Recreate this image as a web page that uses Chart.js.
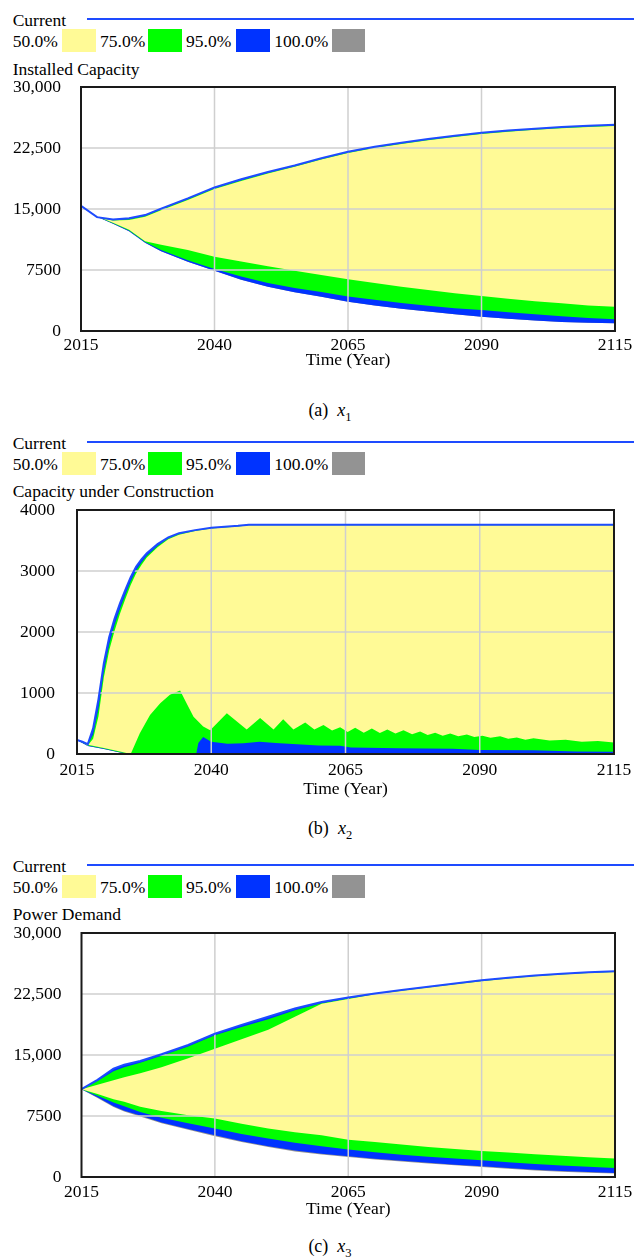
<!DOCTYPE html>
<html><head><meta charset="utf-8">
<script src="https://cdn.jsdelivr.net/npm/chart.js@4.4.1/dist/chart.umd.min.js"></script>
<style>
body{margin:0;width:634px;height:1257px;position:relative;background:#fff;font-family:'Liberation Serif','Times New Roman',serif;overflow:hidden}
.t{position:absolute;font-size:17.5px;line-height:20px;white-space:nowrap;color:#000}
.box{position:absolute;width:33.5px;height:22.4px}
.ln{position:absolute;height:2px;background:#1e4bff}
.cv{position:absolute;left:0}
.cap{position:absolute;left:0;width:660px;text-align:center;font-size:18px;line-height:22px;white-space:nowrap}
</style></head><body>
<script>
// ---------- shared labels / ticks ----------
const xTickValues = [2015, 2040, 2065, 2090, 2115];
const xTickLabels = ['2015', '2040', '2065', '2090', '2115'];
const yTicks1 = [0, 7500, 15000, 22500, 30000];
const yTickLabels1 = ['0', '7500', '15,000', '22,500', '30,000'];
const yTicks2 = [0, 1000, 2000, 3000, 4000];
const yTickLabels2 = ['0', '1000', '2000', '3000', '4000'];
const yTicks3 = [0, 7500, 15000, 22500, 30000];
const yTickLabels3 = ['0', '7500', '15,000', '22,500', '30,000'];
const legendLabels = ['50.0%', '75.0%', '95.0%', '100.0%'];
const bandColors = ['#FFFA96', '#00FF00', '#0033FF', '#939393'];
const chartTitles = ['Installed Capacity', 'Capacity under Construction', 'Power Demand'];
const captionLetters = ['(a)', '(b)', '(c)'];
const captionIndex = ['1', '2', '3'];
const xAxisTitle = 'Time (Year)';

// ---------- panel (a): Installed Capacity ----------
const years1 = [2015, 2018, 2021, 2024, 2027, 2030, 2035, 2040, 2045, 2050, 2055, 2060, 2065, 2070, 2075, 2080, 2085, 2090, 2095, 2100, 2105, 2110, 2115];
const current1 = [15400, 14000, 13720, 13850, 14250, 15050, 16300, 17650, 18650, 19550, 20350, 21250, 22050, 22650, 23150, 23600, 24000, 24380, 24650, 24880, 25080, 25230, 25350];
const max50_1 = [15400, 13950, 13580, 13650, 14050, 14850, 16100, 17450, 18450, 19350, 20200, 21100, 21900, 22500, 23000, 23450, 23850, 24230, 24500, 24730, 24930, 25080, 25200];
const max75_1 = [15400, 13980, 13650, 13750, 14150, 14950, 16200, 17550, 18550, 19450, 20280, 21180, 21980, 22580, 23080, 23530, 23930, 24310, 24580, 24810, 25010, 25160, 25280];
const max95_1 = [15400, 14000, 13720, 13850, 14250, 15050, 16300, 17650, 18650, 19550, 20350, 21250, 22050, 22650, 23150, 23600, 24000, 24380, 24650, 24880, 25080, 25230, 25350];
const min50_1 = [15400, 14100, 13300, 12450, 11050, 10600, 9950, 9130, 8550, 7950, 7400, 6900, 6350, 5900, 5450, 5050, 4650, 4300, 3950, 3650, 3400, 3150, 2990];
const min75_1 = [15400, 14080, 13250, 12350, 10950, 9950, 8700, 7620, 6700, 5900, 5300, 4800, 4250, 3850, 3450, 3100, 2800, 2580, 2300, 2050, 1800, 1600, 1430];
const min95_1 = [15400, 14050, 13200, 12250, 10850, 9800, 8500, 7400, 6300, 5450, 4750, 4200, 3600, 3150, 2750, 2400, 2050, 1760, 1500, 1300, 1100, 1000, 950];

// ---------- panel (b): Capacity under Construction ----------
const years2 = [2015, 2016, 2017, 2018, 2019, 2020, 2021, 2022, 2023, 2024, 2025, 2026, 2027, 2028, 2030, 2032, 2034, 2037, 2040, 2045, 2047, 2115];
const current2 = [230, 200, 160, 420, 900, 1490, 1920, 2220, 2470, 2690, 2900, 3070, 3190, 3290, 3440, 3550, 3620, 3670, 3710, 3740, 3760, 3760];
const max50_2 = [230, 195, 140, 250, 620, 1260, 1700, 2020, 2300, 2540, 2770, 2960, 3100, 3220, 3390, 3520, 3595, 3655, 3695, 3730, 3750, 3750];
const max75_2 = [230, 198, 150, 320, 750, 1360, 1800, 2120, 2380, 2610, 2830, 3010, 3140, 3250, 3410, 3535, 3605, 3662, 3702, 3735, 3755, 3755];
const max95_2 = [230, 200, 160, 420, 900, 1490, 1920, 2220, 2470, 2690, 2900, 3070, 3190, 3290, 3440, 3550, 3620, 3670, 3710, 3740, 3760, 3760];
const min50Years2 = [2015, 2017, 2020, 2023, 2025, 2026.7, 2028.6, 2030.5, 2032.3, 2034.2, 2035.4, 2036.7, 2038.5, 2039.8, 2042.9, 2046.6, 2049.1, 2051.6, 2053.4, 2055.3, 2057.5, 2059.2, 2060.9, 2062.5, 2064, 2065.4, 2066.8, 2068.4, 2069.9, 2071.4, 2072.8, 2074.3, 2075.8, 2077.4, 2078.9, 2080.3, 2081.7, 2083.1, 2084.5, 2086, 2087.6, 2089, 2090.5, 2092, 2093.8, 2095.3, 2096.9, 2098.5, 2100, 2103, 2106, 2109, 2112, 2115];
const min50_2 = [230, 150, 100, 40, 0, 340, 640, 830, 970, 1040, 830, 610, 450, 390, 670, 400, 590, 400, 570, 400, 515, 400, 475, 385, 440, 360, 430, 350, 420, 345, 400, 335, 390, 325, 370, 310, 350, 300, 335, 290, 320, 280, 300, 265, 290, 250, 270, 235, 260, 220, 235, 200, 215, 190];
const min75Years2 = [2015, 2017, 2020, 2023, 2025, 2037.2, 2037.6, 2038.5, 2040, 2043, 2046, 2049, 2052, 2056, 2060, 2064, 2066, 2075, 2085, 2090, 2100, 2108, 2115];
const min75_2 = [230, 140, 90, 30, 0, 0, 180, 280, 200, 170, 175, 200, 180, 160, 140, 135, 105, 95, 85, 66, 60, 40, 35];
const min95Years2 = [2015, 2017, 2020, 2023, 2025, 2115];
const min95_2 = [230, 130, 80, 25, 0, 0];

// ---------- panel (c): Power Demand ----------
const years3 = [2015, 2018, 2021, 2023, 2026, 2030, 2035, 2040, 2045, 2050, 2055, 2060, 2065, 2070, 2075, 2080, 2085, 2090, 2095, 2100, 2105, 2110, 2115];
const current3 = [10800, 11950, 13330, 13800, 14270, 15100, 16250, 17630, 18700, 19700, 20720, 21520, 22060, 22560, 23000, 23400, 23800, 24180, 24500, 24780, 25000, 25180, 25290];
const max50_3 = [10800, 11350, 11900, 12250, 12750, 13500, 14600, 15780, 16950, 18100, 19700, 21300, 21900, 22460, 22900, 23300, 23700, 24080, 24400, 24680, 24900, 25080, 25190];
const max75_3 = [10800, 11800, 13000, 13500, 14050, 14900, 16050, 17420, 18450, 19400, 20500, 21350, 21950, 22480, 22930, 23330, 23730, 24110, 24430, 24710, 24930, 25110, 25220];
const max95_3 = [10800, 11950, 13330, 13800, 14270, 15100, 16250, 17630, 18700, 19700, 20720, 21520, 22060, 22560, 23000, 23400, 23800, 24180, 24500, 24780, 25000, 25180, 25290];
const min50_3 = [10800, 10200, 9550, 9250, 8650, 8100, 7600, 7180, 6550, 5950, 5500, 5130, 4590, 4300, 4000, 3700, 3450, 3200, 3000, 2800, 2600, 2420, 2260];
const min75_3 = [10800, 10000, 9150, 8700, 8000, 7300, 6600, 5950, 5300, 4720, 4200, 3770, 3370, 3050, 2750, 2500, 2270, 2050, 1800, 1600, 1400, 1250, 1110];
const min95_3 = [10800, 9800, 8700, 8150, 7550, 6700, 5900, 5130, 4400, 3770, 3250, 2850, 2540, 2250, 2000, 1750, 1520, 1320, 1100, 900, 750, 600, 500];
const min100_3 = [10800, 9720, 8600, 8050, 7450, 6600, 5800, 5000, 4300, 3680, 3150, 2760, 2450, 2160, 1910, 1660, 1430, 1230, 1010, 810, 660, 510, 420];

// ---------- helpers ----------
function pts(xs, ys) { return xs.map((x, i) => ({ x: x, y: ys[i] })); }

const panels = [
  { top: 87, bottom: 331, left: 81, right: 615, yMax: 30000, yTicks: yTicks1, yLabels: yTickLabels1, yPad: 20,
    xLabPad: 4, xTitlePad: 10, capY: 410, titleOff: 18,
    current: [years1, current1],
    bands: [
      [years1, min50_1, years1, max50_1],
      [years1, min75_1, years1, max75_1],
      [years1, min95_1, years1, max95_1],
      [years1, min95_1, years1, max95_1]
    ] },
  { top: 510, bottom: 754, left: 77, right: 614, yMax: 4000, yTicks: yTicks2, yLabels: yTickLabels2, yPad: 22,
    xLabPad: 6, xTitlePad: 4, capY: 828, titleOff: 19,
    current: [years2, current2],
    bands: [
      [min50Years2, min50_2, years2, max50_2],
      [min75Years2, min75_2, years2, max75_2],
      [min95Years2, min95_2, years2, max95_2],
      [min95Years2, min95_2, years2, max95_2]
    ] },
  { top: 933, bottom: 1177, left: 81.5, right: 615, yMax: 30000, yTicks: yTicks3, yLabels: yTickLabels3, yPad: 20,
    xLabPad: 5, xTitlePad: 7, capY: 1246, titleOff: 19,
    current: [years3, current3],
    bands: [
      [years3, min50_3, years3, max50_3],
      [years3, min75_3, years3, max75_3],
      [years3, min95_3, years3, max95_3],
      [years3, min100_3, years3, max95_3]
    ] }
];

function addText(txt, left, cy, cls) {
  const d = document.createElement('div');
  d.className = cls || 't';
  d.textContent = txt;
  d.style.left = left + 'px';
  d.style.top = (cy - 10) + 'px';
  document.body.appendChild(d);
  return d;
}

const legendTextX = [12.7, 100, 186, 274.3];
const legendBoxX = [62, 148, 236, 331.6];

const gridBorder = {
  id: 'gridBorder',
  beforeDatasetDraw(chart, args) {
    if (args.index !== 0) return;
    const { ctx, chartArea: a, scales: { x, y } } = chart;
    ctx.save();
    ctx.strokeStyle = '#cfcfcf';
    ctx.lineWidth = 1.5;
    ctx.beginPath();
    x.ticks.forEach(t => {
      if (t.value <= x.min || t.value >= x.max) return;
      const px = x.getPixelForValue(t.value);
      ctx.moveTo(px, a.top); ctx.lineTo(px, a.bottom);
    });
    y.ticks.forEach(t => {
      if (t.value <= y.min || t.value >= y.max) return;
      const py = y.getPixelForValue(t.value);
      ctx.moveTo(a.left, py); ctx.lineTo(a.right, py);
    });
    ctx.stroke();
    ctx.restore();
  },
  afterDatasetsDraw(chart) {
    const { ctx, chartArea: a } = chart;
    ctx.save();
    ctx.strokeStyle = '#1a1a1a';
    ctx.lineWidth = 2;
    ctx.strokeRect(a.left, a.top, a.right - a.left, a.bottom - a.top);
    ctx.restore();
  }
};

Chart.defaults.font.family = "'Liberation Serif', 'Times New Roman', serif";
Chart.defaults.font.size = 17.5;
Chart.defaults.color = '#000';

panels.forEach((p, k) => {
  // legend
  addText('Current', 12.7, p.top - 67);
  const ln = document.createElement('div');
  ln.className = 'ln';
  ln.style.left = '87px'; ln.style.width = '547px'; ln.style.top = (p.top - 69) + 'px';
  document.body.appendChild(ln);
  legendLabels.forEach((lab, i) => {
    addText(lab, legendTextX[i], p.top - 46);
    const b = document.createElement('div');
    b.className = 'box';
    b.style.left = legendBoxX[i] + 'px';
    b.style.top = (p.top - 57.7) + 'px';
    b.style.background = bandColors[i];
    document.body.appendChild(b);
  });
  addText(chartTitles[k], 12.7, p.top - p.titleOff);

  // caption
  const cap = document.createElement('div');
  cap.className = 'cap';
  cap.style.top = (p.capY - 11) + 'px';
  cap.innerHTML = captionLetters[k] + '&nbsp;&nbsp;<i>x</i><sub style="font-size:12.5px">' + captionIndex[k] + '</sub>';
  document.body.appendChild(cap);

  // canvas
  const padTop = 12, axisH = 50;
  const cv = document.createElement('canvas');
  cv.className = 'cv';
  cv.width = 634;
  cv.height = Math.round(p.bottom - p.top) + padTop + axisH;
  cv.style.top = (p.top - padTop) + 'px';
  document.body.appendChild(cv);

  const ds = [];
  ds.push({ label: 'Current', data: pts(p.current[0], p.current[1]), borderColor: '#1e4bff', borderWidth: 2,
            pointRadius: 0, fill: false, order: 0, tension: 0 });
  p.bands.forEach((b, i) => {
    const iMin = ds.length;
    ds.push({ label: legendLabels[i] + ' min', data: pts(b[0], b[1]), borderColor: 'rgba(0,0,0,0)', borderWidth: 0,
              pointRadius: 0, fill: false, order: i + 1 });
    ds.push({ label: legendLabels[i] + ' max', data: pts(b[2], b[3]), borderColor: 'rgba(0,0,0,0)', borderWidth: 0,
              pointRadius: 0, fill: iMin, backgroundColor: bandColors[i], order: i + 1 });
  });

  new Chart(cv, {
    type: 'line',
    data: { datasets: ds },
    options: {
      responsive: false, animation: false, devicePixelRatio: 1,
      events: [],
      layout: { padding: { top: padTop, right: 634 - p.right, left: 0, bottom: 0 } },
      plugins: { legend: { display: false }, tooltip: { enabled: false } },
      scales: {
        x: {
          type: 'linear', min: 2015, max: 2115,
          grid: { display: false, drawTicks: false }, border: { display: false },
          afterBuildTicks: s => { s.ticks = xTickValues.map(v => ({ value: v })); },
          afterFit: s => { s.height = axisH; s.paddingLeft = 0; s.paddingRight = 0; s.paddingTop = 0; s.paddingBottom = 0; },
          ticks: { autoSkip: false, maxRotation: 0, padding: p.xLabPad,
                   callback: v => xTickLabels[xTickValues.indexOf(v)] },
          title: { display: true, text: xAxisTitle, padding: { top: 0, bottom: p.xTitlePad } }
        },
        y: {
          type: 'linear', min: 0, max: p.yMax,
          grid: { display: false, drawTicks: false }, border: { display: false },
          afterBuildTicks: s => { s.ticks = p.yTicks.map(v => ({ value: v })); },
          afterFit: s => { s.width = p.left; s.paddingLeft = 0; s.paddingRight = 0; s.paddingTop = 0; s.paddingBottom = 0; },
          ticks: { autoSkip: false, padding: p.yPad,
                   callback: v => p.yLabels[p.yTicks.indexOf(v)] }
        }
      }
    },
    plugins: [gridBorder]
  });
});
</script>
</body></html>
